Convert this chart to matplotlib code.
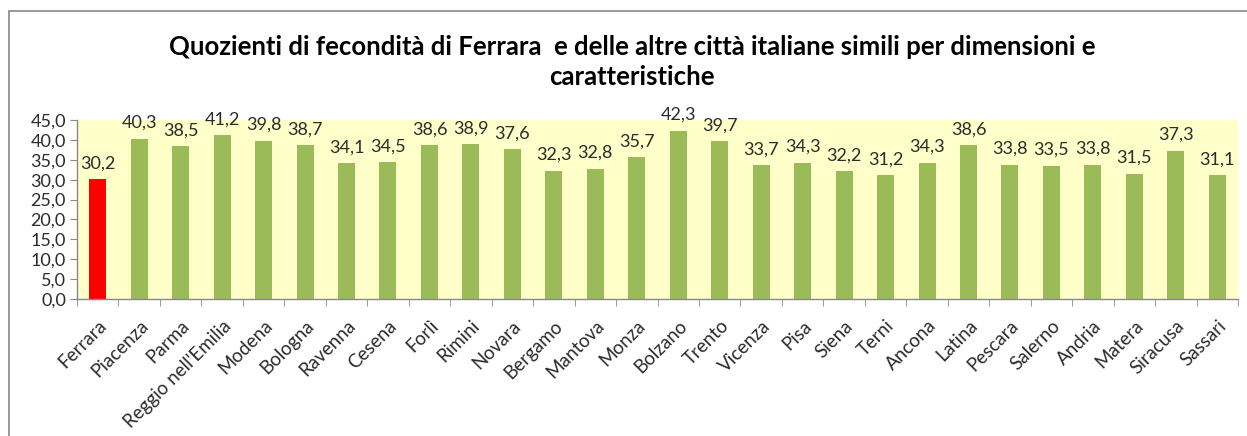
import matplotlib
matplotlib.use("Agg")
import matplotlib.pyplot as plt
from matplotlib.patches import Rectangle

cities = ["Ferrara", "Piacenza", "Parma", "Reggio nell'Emilia", "Modena", "Bologna",
          "Ravenna", "Cesena", "Forlì", "Rimini", "Novara", "Bergamo", "Mantova",
          "Monza", "Bolzano", "Trento", "Vicenza", "Pisa", "Siena", "Terni", "Ancona",
          "Latina", "Pescara", "Salerno", "Andria", "Matera", "Siracusa", "Sassari"]
values = [30.2, 40.3, 38.5, 41.2, 39.8, 38.7, 34.1, 34.5, 38.6, 38.9, 37.6, 32.3, 32.8,
          35.7, 42.3, 39.7, 33.7, 34.3, 32.2, 31.2, 34.3, 38.6, 33.8, 33.5, 33.8, 31.5,
          37.3, 31.1]
highlight = "Ferrara"
yticks = [0, 5, 10, 15, 20, 25, 30, 35, 40, 45]
title = "Quozienti di fecondità di Ferrara  e delle altre città italiane simili per dimensioni e\ncaratteristiche"

plt.rcParams['font.family'] = ['Lato', 'DejaVu Sans']

fig = plt.figure(figsize=(12.47, 4.36), dpi=100)
fig.patch.set_facecolor('white')
ax = fig.add_axes([77/1247, 1-299/436, (1238-77)/1247, (299-120)/436])
ax.set_facecolor('#FFFFCA')

colors = ['#FF0000' if c == highlight else '#9BBB59' for c in cities]
x = list(range(len(cities)))
bars = ax.bar(x, values, width=0.41, color=colors, zorder=2)
for xi, v in zip(x, values):
    ax.annotate(f"{v:.1f}".replace('.', ','), (xi, v), xytext=(0, 5.5),
                textcoords='offset points', ha='center', va='bottom',
                fontsize=13, color='#2b2b2b', annotation_clip=False)

ax.set_xlim(-0.5, len(cities) - 0.5)
ax.set_ylim(0, 45)
ax.set_yticks(yticks)
ax.set_yticklabels([f"{t:.1f}".replace('.', ',') for t in yticks], fontsize=13, color='#2b2b2b')
ax.set_xticks(x)
ax.set_xticklabels(cities, rotation=45, ha='right', rotation_mode='anchor',
                   fontsize=13.5, color='#2b2b2b')
ax.set_xticks([i - 0.5 for i in range(len(cities) + 1)], minor=True)
ax.tick_params(axis='x', which='major', length=0, pad=13)
ax.tick_params(axis='x', which='minor', length=5, color='#888888', direction='out')
ax.tick_params(axis='y', length=5, color='#888888', direction='out', pad=3)
for s in ['top', 'right']:
    ax.spines[s].set_visible(False)
for s in ['left', 'bottom']:
    ax.spines[s].set_color('#888888')
    ax.spines[s].set_linewidth(1)

fig.text(632/1247, 1-62/436, title, ha='center', va='center', fontsize=18.5,
         fontweight='bold', color='black', linespacing=1.3)

fig.patches.append(Rectangle((9/1247, -0.05), 1.1, 1-11/436+0.05, transform=fig.transFigure,
                             fill=False, edgecolor='#888888', linewidth=1.2, zorder=0))

fig.savefig('out.png', dpi=100)
